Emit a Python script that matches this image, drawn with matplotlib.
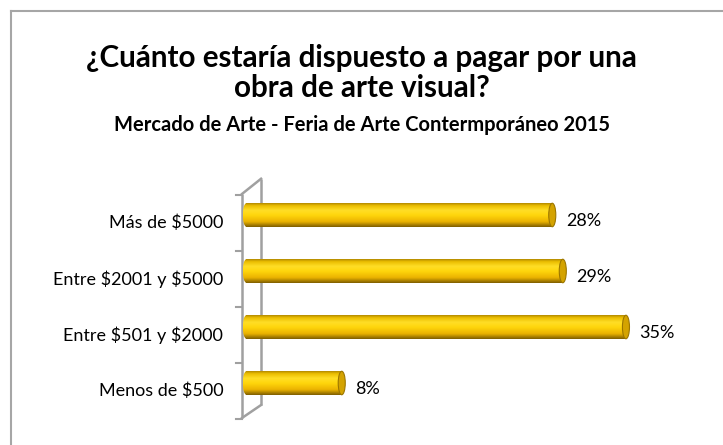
import numpy as np
import matplotlib
matplotlib.use("Agg")
import matplotlib.pyplot as plt
from matplotlib.patches import Ellipse
from matplotlib.lines import Line2D

plt.rcParams['font.family'] = ['Lato', 'DejaVu Sans']

# data (bottom to top)
categories = ["Menos de $500", "Entre $501 y $2000", "Entre $2001 y $5000", "Más de $5000"]
values = [8, 35, 29, 28]
labels = ["8%", "35%", "29%", "28%"]

title = "¿Cuánto estaría dispuesto a pagar por una\nobra de arte visual?"
subtitle = "Mercado de Arte - Feria de Arte Contermporáneo 2015"

W, H = 723, 445
fig = plt.figure(figsize=(W / 100, H / 100), dpi=100)

# outer frame (only top and left edges visible)
fig.add_artist(Line2D([11 / W, 1], [1 - 11 / H, 1 - 11 / H], color="#a6a6a6", lw=1.5))
fig.add_artist(Line2D([11 / W, 11 / W], [0, 1 - 11 / H], color="#a6a6a6", lw=1.5))

fig.text(0.5, 1 - 73 / H, title, ha="center", va="center", fontsize=21.3,
         fontweight="bold", linespacing=1.1)
fig.text(0.5, 1 - 125 / H, subtitle, ha="center", va="center", fontsize=14.5,
         fontweight="bold")

# axes placed so that one unit = 10.52 px in x, category pitch = 56 px
ax = fig.add_axes([200 / W, 15 / H, 500 / W, 260 / H])
ax.axis("off")

# 3D-ish axis wall
wall = "#a0a0a0"
ax.plot([-1.8, -1.8], [-0.48, 3.52], color=wall, lw=1.8, solid_capstyle="butt")
ax.plot([0, 0], [-0.25, 3.79], color=wall, lw=1.8, solid_capstyle="butt")
ax.plot([-1.8, 0], [3.52, 3.79], color=wall, lw=1.8)
ax.plot([-1.8, 0], [-0.48, -0.25], color=wall, lw=1.8)
for t in np.arange(-0.5, 4, 1.0):
    ax.plot([-2.4, -1.8], [t, t], color=wall, lw=1.5)

# vertical gradient (top row first) for a cylinder look
stops = [(0.0, (0.70, 0.54, 0.0)), (0.1, (0.92, 0.74, 0.0)), (0.3, (1.0, 0.87, 0.15)),
         (0.5, (1.0, 0.84, 0.05)), (0.78, (0.92, 0.70, 0.0)), (1.0, (0.50, 0.37, 0.0))]
pos = np.linspace(0, 1, 64)
grad = np.zeros((64, 1, 3))
for c in range(3):
    grad[:, 0, c] = np.interp(pos, [s[0] for s in stops], [s[1][c] for s in stops])

bh = 0.42      # bar thickness
dy = 0.143     # perspective shift up
x0 = -1.4      # bars start behind the wall
cw = 0.67      # cap ellipse width

for i, (v, lab) in enumerate(zip(values, labels)):
    yc = i + dy
    xe = v - cw / 2
    ax.imshow(grad, extent=[x0, xe, yc - bh / 2, yc + bh / 2], aspect="auto",
              interpolation="bilinear", zorder=2)
    left = Ellipse((x0, yc), cw, bh, transform=ax.transData)
    im = ax.imshow(grad, extent=[x0 - cw / 2, x0, yc - bh / 2, yc + bh / 2],
                   aspect="auto", interpolation="bilinear", zorder=2)
    im.set_clip_path(left)
    ax.add_patch(Ellipse((xe, yc), cw, bh, facecolor="#d4a300",
                         edgecolor="#9c7600", lw=0.8, zorder=3))
    ax.text(v + 0.95, i + 0.04, lab, ha="left", va="center", fontsize=13)
    ax.text(-3.6, i, categories[i], ha="right", va="center", fontsize=13,
            parse_math=False)

ax.set_xlim(-5.8, 41.7)
ax.set_ylim(-0.696, 3.946)

fig.savefig("out.png", dpi=100)
